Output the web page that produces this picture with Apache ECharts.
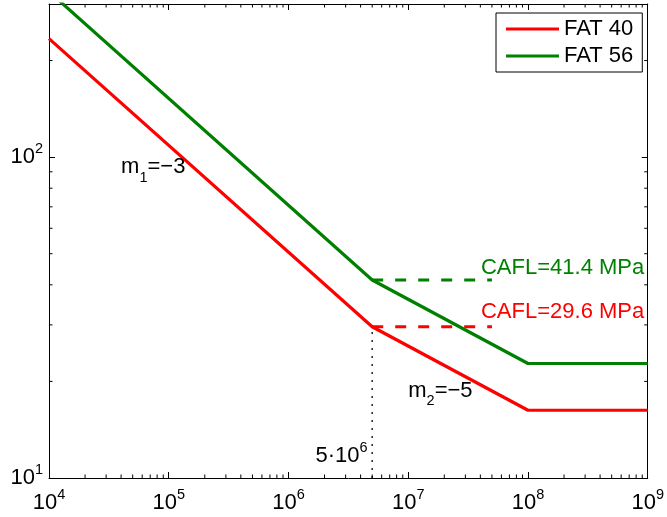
<!DOCTYPE html>
<html>
<head>
<meta charset="utf-8">
<script src="https://cdn.jsdelivr.net/npm/echarts@6/dist/echarts.min.js"></script>
<style>
  html, body { margin: 0; padding: 0; background: #fff; }
  #chart { width: 667px; height: 517px; }
</style>
</head>
<body>
<div id="chart"></div>
<script>
// S-N curves for two detail categories (log-log), knee at 5e6, cut-off at 1e8
const cycles = [1e4, 5e6, 1e8, 1e9];
const fat40 = [234, 29.6, 16.26, 16.26];
const fat56 = [328, 41.4, 22.74, 22.74];

// constant amplitude fatigue limits, drawn as dashed lines from the knee
const cafl40 = 29.6;
const cafl56 = 41.4;
const kneeN = 5e6;
const caflEndN = 5e7;

// axis ranges and minor tick values (2..9 per decade)
const xMin = 1e4, xMax = 1e9;
const yMin = 10, yMax = 300;
const xMinorTicks = [];
[1e4, 1e5, 1e6, 1e7, 1e8].forEach(function (d) {
  [2, 3, 4, 5, 6, 7, 8, 9].forEach(function (k) { xMinorTicks.push(k * d); });
});
const yMinorTicks = [20, 30, 40, 50, 60, 70, 80, 90, 200];

const FONT = "'Liberation Sans', Arial, Helvetica, sans-serif";
const FS = 22;
const RED = '#ff0000';
const GREEN = '#008000';
const MAJOR_LEN = 6;
const MINOR_LEN = 3.5;

const powRich = {
  t: { fontFamily: FONT, fontSize: FS, lineHeight: 32, color: '#000', verticalAlign: 'middle' },
  u: { fontFamily: FONT, fontSize: 14.5, lineHeight: 14, color: '#000', verticalAlign: 'top' }
};

function isDecade(v) {
  const l = Math.log10(v);
  return Math.abs(l - Math.round(l)) < 1e-6;
}
function powLabel(v) {
  if (!isDecade(v)) return '';
  return '{t|10}{u|' + Math.round(Math.log10(v)) + '}';
}

const line = { show: true, lineStyle: { color: '#000', width: 1 } };
const majorTick = { show: true, inside: true, length: MAJOR_LEN, lineStyle: { color: '#000', width: 1 } };

function axisPair(kind, min, max) {
  const isX = kind === 'x';
  const base = {
    type: 'log', logBase: 10, min: min, max: max, gridIndex: 0,
    splitLine: { show: false }, minorTick: { show: false }, axisLine: line, axisTick: majorTick
  };
  return [
    Object.assign({}, base, {
      position: isX ? 'bottom' : 'left',
      axisLabel: {
        show: true, margin: isX ? 9 : 6, formatter: powLabel, rich: powRich,
        hideOverlap: false, showMinLabel: true, showMaxLabel: true
      }
    }),
    Object.assign({}, base, {
      position: isX ? 'top' : 'right',
      axisLabel: { show: false }
    })
  ];
}

function pairs(xs, ys) {
  return xs.map(function (x, i) { return [x, ys[i]]; });
}

// minor ticks on all four sides, placed through the axis scales
function minorTickSeries(isX, values) {
  return {
    type: 'custom', silent: true, z: 6, clip: false,
    data: values.map(function (v) { return isX ? [v, yMin] : [xMin, v]; }),
    renderItem: function (params, api) {
      const v = api.value(isX ? 0 : 1);
      const a = api.coord(isX ? [v, yMin] : [xMin, v]);
      const b = api.coord(isX ? [v, yMax] : [xMax, v]);
      const s = { stroke: '#000', lineWidth: 1 };
      const lines = isX
        ? [[a[0], a[1], a[0], a[1] - MINOR_LEN], [b[0], b[1], b[0], b[1] + MINOR_LEN]]
        : [[a[0], a[1], a[0] + MINOR_LEN, a[1]], [b[0], b[1], b[0] - MINOR_LEN, b[1]]];
      return {
        type: 'group',
        children: lines.map(function (l) {
          return { type: 'line', shape: { x1: l[0], y1: l[1], x2: l[2], y2: l[3] }, style: s };
        })
      };
    }
  };
}

const chart = echarts.init(document.getElementById('chart'), null, { renderer: 'canvas' });

chart.setOption({
  animation: false,
  backgroundColor: '#fff',
  textStyle: { fontFamily: FONT },
  grid: { left: 49, right: 15, top: 4, bottom: 39, containLabel: false },
  xAxis: axisPair('x', xMin, xMax),
  yAxis: axisPair('y', yMin, yMax),
  legend: {
    data: ['FAT 40', 'FAT 56'],
    orient: 'vertical',
    left: 496, top: 13,
    padding: [5, 9, 5, 10],
    itemGap: 5,
    itemWidth: 53, itemHeight: 3,
    icon: 'rect',
    borderColor: '#000', borderWidth: 1, borderRadius: 0,
    backgroundColor: '#fff',
    textStyle: { fontFamily: FONT, fontSize: FS, lineHeight: 22, color: '#000' }
  },
  series: [
    {
      name: 'FAT 40', type: 'line', data: pairs(cycles, fat40),
      symbol: 'none', lineStyle: { color: RED, width: 3.2 }, itemStyle: { color: RED }, z: 5
    },
    {
      name: 'FAT 56', type: 'line', data: pairs(cycles, fat56),
      symbol: 'none', lineStyle: { color: GREEN, width: 3.2 }, itemStyle: { color: GREEN }, z: 5
    },
    {
      name: 'CAFL 40', type: 'line', data: [[kneeN, cafl40], [caflEndN, cafl40]],
      symbol: 'none', lineStyle: { color: RED, width: 3.2, type: [11, 12] }, z: 4
    },
    {
      name: 'CAFL 56', type: 'line', data: [[kneeN, cafl56], [caflEndN, cafl56]],
      symbol: 'none', lineStyle: { color: GREEN, width: 3.2, type: [11, 12] }, z: 4
    },
    {
      name: 'knee', type: 'line', data: [[kneeN, yMin], [kneeN, cafl40]],
      symbol: 'none', lineStyle: { color: '#222', width: 1.5, type: [2, 6] }, z: 3
    },
    minorTickSeries(true, xMinorTicks),
    minorTickSeries(false, yMinorTicks)
  ]
});

// text annotations placed at data coordinates
const subRich = {
  t: { fontFamily: FONT, fontSize: FS, lineHeight: 36, color: '#000', verticalAlign: 'middle' },
  d: { fontFamily: FONT, fontSize: 14.5, lineHeight: 14, color: '#000', verticalAlign: 'bottom' }
};
const notes = [
  { at: [4e4, 93], text: '{t|m}{d|1}{t|=\u22123}', rich: subRich, align: 'left' },
  { at: [1e7, 18.7], text: '{t|m}{d|2}{t|=\u22125}', rich: subRich, align: 'left' },
  { at: [4.58e6, 11.7], text: '{t|5\u00b710}{u|6}', rich: powRich, align: 'right' },
  { at: [4.05e7, 45.2], text: 'CAFL=' + cafl56.toFixed(1) + ' MPa', color: GREEN, align: 'left' },
  { at: [4.05e7, 32.9], text: 'CAFL=' + cafl40.toFixed(1) + ' MPa', color: RED, align: 'left' }
];

chart.setOption({
  graphic: notes.map(function (n) {
    const p = chart.convertToPixel({ xAxisIndex: 0, yAxisIndex: 0 }, n.at);
    const style = {
      text: n.text, x: p[0], y: p[1], align: n.align, verticalAlign: 'middle',
      fontFamily: FONT, fontSize: FS, fill: n.color || '#000'
    };
    if (n.rich) style.rich = n.rich;
    return { type: 'text', z: 10, style: style };
  })
});
</script>
</body>
</html>
